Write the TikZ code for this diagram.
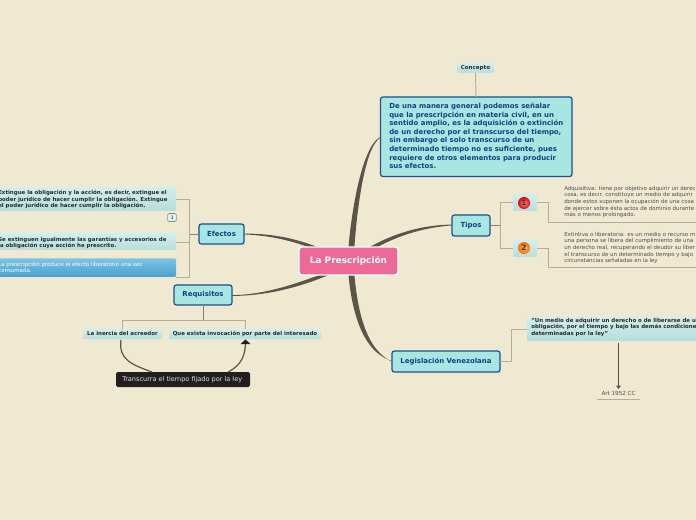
\documentclass[tikz,border=0pt]{standalone}
\usepackage{fontspec}
\setmainfont{DejaVu Sans}
\usetikzlibrary{calc,arrows.meta}
\definecolor{bgc}{HTML}{F0E9D2}
\definecolor{topicfill}{HTML}{A8E6E1}
\definecolor{topicline}{HTML}{1F4E8C}
\definecolor{topictext}{HTML}{153E85}
\definecolor{branchc}{HTML}{5A5548}
\definecolor{linkc}{HTML}{B5AD98}
\definecolor{stubc}{HTML}{86806E}
\definecolor{darktext}{HTML}{2B2B2B}
\definecolor{pinkc}{HTML}{EC6A98}
\definecolor{leafc}{HTML}{B6DEDD}
\definecolor{leaftop}{HTML}{D2EFEC}
\definecolor{bluetop}{HTML}{7CC4E4}
\definecolor{bluebot}{HTML}{4AA0CC}
\definecolor{blackbox}{HTML}{231F20}
\newcommand{\fs}[2]{\fontsize{#1}{#2}\selectfont}
\tikzset{
 x=0.75pt,y=-0.75pt,
 boxat/.style args={#1/#2/#3/#4}{minimum width=(#3-#1)*0.75pt,minimum height=(#4-#2)*0.75pt,anchor=north west,inner sep=0pt,outer sep=0pt},
 topic/.style={draw=topicline,line width=0.9pt,fill=topicfill,rounded corners=1.8pt,text=topictext,font=\fs{5.2}{6}\bfseries},
 leafbox/.style={top color=leaftop,bottom color=leafc,rounded corners=0.8pt,draw=none},
 sub/.style={font=\fs{4.09}{4.9}\bfseries,text=darktext,align=left,anchor=north west,inner sep=0pt},
 body/.style={font=\fs{4.1}{4.9},text=darktext!85,align=left,anchor=north west,inner sep=0pt},
 linkl/.style={draw=linkc,line width=0.7pt},
 stubl/.style={draw=stubc,line width=0.7pt},
 branch/.style={fill=branchc,draw=none},
}
\begin{document}
\begin{tikzpicture}
\clip (0,0) rectangle (696,520);
\fill[bgc] (0,0) rectangle (696,520);
\node[boxat=0/0/37/10,leafbox] (concepto) at (457,63) {};
\node[font=\fs{4.15}{5}\bfseries,text=darktext] at (concepto.center) {Concepto};
\node[boxat=380.5/97/572/176.5,topic] (def) at (380.5,97) {};
\node[boxat=452/215/490/236,topic] (tipos) at (452,215) {Tipos};
\node[boxat=199/224/244/244,topic] (efectos) at (199,224) {Efectos};
\node[boxat=174/285/232/305,topic] (req) at (174,285) {Requisitos};
\node[boxat=392/351/500/372,topic] (leg) at (392,351) {Legislación Venezolana};
% leaf boxes
\node[boxat=0/0/180/24,leafbox] (e1) at (-4,187) {};
\node[boxat=0/0/180/17,leafbox] (e2) at (-4,233) {};
\node[boxat=0/0/180/18.5,top color=bluetop,bottom color=bluebot,rounded corners=0.8pt] (e3) at (-4,258.5) {};
\node[boxat=0/0/24/17,leafbox] (t1) at (513,194) {};
\node[boxat=0/0/24/17,leafbox] (t2) at (513,240) {};
\node[boxat=0/0/79/10,leafbox] (r1) at (83,329) {};
\node[boxat=0/0/152/10,leafbox] (r2) at (169,329) {};
\node[boxat=0/0/175/24,leafbox] (l1) at (527,317) {};
\node[boxat=0/0/134/15,fill=blackbox,rounded corners=1.2pt] (blk) at (116,372) {};
\node[font=\fs{4.9}{6},text=white!88!black,anchor=west,inner sep=0pt] at (122,379.5) {Transcurra el tiempo fijado por la ley};
% branches
\fill[branch] (347.5,261) .. controls (350,215) and (362,145) .. (380.5,137) -- (380.5,137.6) .. controls (364,147) and (356,215) .. (353.5,261) -- cycle;
\fill[branch] (347.5,261) .. controls (350,310) and (362,352) .. (392,361) -- (392,361.6) .. controls (366,350) and (356,310) .. (353.5,261) -- cycle;
\fill[branch] (346,262) .. controls (385,234) and (420,225) .. (452,224.6) -- (452,225.4) .. controls (420,228) and (388,237) .. (350,264) -- cycle;
\fill[branch] (350,262) .. controls (310,241) and (280,233.5) .. (244,233.6) -- (244,234.4) .. controls (280,236) and (310,245) .. (346,264) -- cycle;
\fill[branch] (350,263) .. controls (310,279) and (270,295) .. (232,295.1) -- (232,295.9) .. controls (270,296) and (310,285) .. (346,267) -- cycle;
% central
\node[boxat=0/0/99/28,fill=pinkc,draw=white,line width=1.1pt,rounded corners=2pt,text=white,font=\fs{6.7}{8}\bfseries] (root) at (299,247) {La Prescripción};
% links
\draw[linkl] (concepto.south) -- (476,97);
\draw[stubl] (efectos.west) -- (189,234);
\draw[linkl] (e1.east) -- (189,199) -- (189,277) -- (176,277);
\draw[linkl] (176,242) -- (189,242);
\draw[stubl] (tipos.east) -- (500,225.5);
\draw[linkl] (t1.west) -- (500,202.5) -- (500,248.5) -- (t2.west);
\draw[linkl] (t1.east) -- (548,202.5) -- (548,222) -- (696,222);
\draw[linkl] (t2.east) -- (548,248.5) -- (548,267) -- (696,267);
\draw[stubl] (req.south) -- (203,320);
\draw[linkl] (122,329) -- (122,320) -- (245,320) -- (245,329);
\draw[linkl] (leg.east) -- (511,361.5) -- (511,329) -- (l1.west);
\draw[branchc,line width=0.8pt,-{Triangle[width=3.6pt,length=2.6pt]}] (618.5,343) -- (618.5,389);
\draw[linkc,line width=0.7pt] (597,399) -- (640,399);
\node[font=\fs{4.2}{5},text=darktext!85] at (618.5,393.5) {Art 1952 CC};
% curved relation
\draw[branchc,line width=0.9pt] (121,340) .. controls (118,360) and (133,365) .. (152,372);
\draw[branchc,line width=0.9pt] (228,372) .. controls (242,365) and (245,355) .. (245.5,343);
\fill[blackbox] (240.5,344) -- (245.5,339.5) -- (250.5,344) -- cycle;
% texts
\node[sub,font=\fs{5.2}{6.43}\bfseries,text=topictext] at (389,103) {De una manera general podemos señalar\\que la prescripción en materia civil, en un\\sentido amplio, es la adquisición o extinción\\de un derecho por el transcurso del tiempo,\\sin embargo el solo transcurso de un\\determinado tiempo no es suficiente, pues\\requiere de otros elementos para producir\\sus efectos.};
\node[sub] at (-2,190) {Extingue la obligación y la acción, es decir, extingue el\\poder jurídico de hacer cumplir la obligación. Extingue\\el poder jurídico de hacer cumplir la obligación.};
\node[sub] at (-2,236.5) {Se extinguen igualmente las garantías y accesorios de\\la obligación cuya acción he prescrito.};
\node[body,text=white] at (-2,261.5) {La prescripción produce el efecto liberatorio una vez\\consumada.};
\node[body] at (564,186) {Adquisitiva: tiene por objetivo adquirir un derec\\cosa, es decir, constituye un medio de adquirir\\donde estos suponen la ocupación de una cosa\\de ejercer sobre ésta actos de dominio durante\\más o menos prolongado.};
\node[body] at (564,232) {Extintiva o liberatoria: es un medio o recurso m\\una persona se libera del cumplimiento de una\\un derecho real, recuperando el deudor su liber\\el transcurso de un determinado tiempo y bajo\\circunstancias señaladas en la ley};
\node[sub] at (531,318) {"Un medio de adquirir un derecho o de liberarse de u\\obligación, por el tiempo y bajo las demás condicione\\determinadas por la ley"};
\node[sub,anchor=base] at (122.5,335.5) {La inercia del acreedor};
\node[sub,anchor=base] at (245,335.5) {Que exista invocación por parte del interesado};
% badges
\node[draw=branchc!70,fill=topicfill!40,rounded corners=1pt,minimum width=6.5pt,minimum height=6pt,inner sep=0pt,line width=0.4pt,font=\fs{3.4}{4},text=darktext] (b3) at (172,217.5) {3};
\node[circle,inner color=red!45!white,outer color=red!90!black,minimum size=9pt,inner sep=0pt,font=\fs{5.6}{6}\bfseries,text=black!80] (n1) at (524,203) {1};
\node[circle,inner color=orange!60!white,outer color=orange!85!red,minimum size=9pt,inner sep=0pt,font=\fs{5.6}{6}\bfseries,text=black!80] (n2) at (524,248) {2};
\end{tikzpicture}
\end{document}
